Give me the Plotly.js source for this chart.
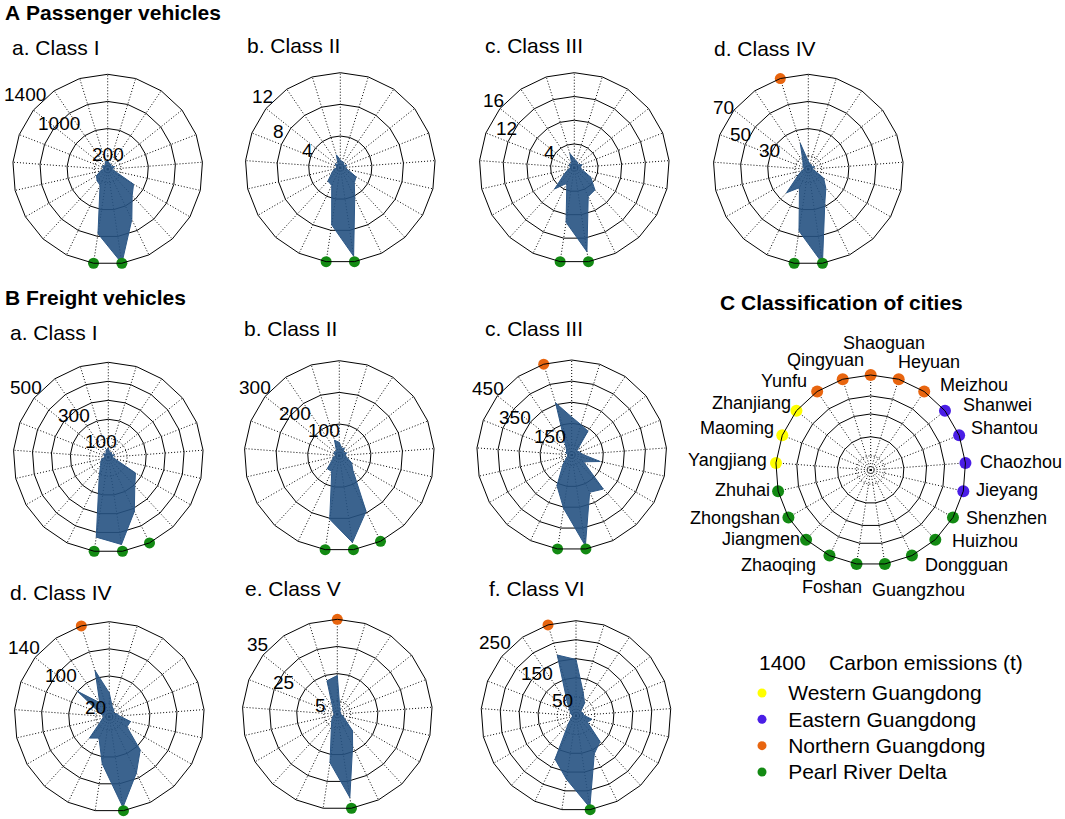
<!DOCTYPE html>
<html><head><meta charset="utf-8">
<script src="https://cdn.plot.ly/plotly-3.0.1.min.js"></script>
<style>html,body{margin:0;padding:0;background:#fff}#chart{width:1065px;height:819px}</style>
</head><body><div id="chart"></div>
<script>
const cities = ['Shaoguan','Heyuan','Meizhou','Shanwei','Shantou','Chaozhou','Jieyang','Shenzhen','Huizhou','Dongguan','Guangzhou','Foshan','Zhaoqing','Jiangmen','Zhongshan','Zhuhai','Yangjiang','Maoming','Zhanjiang','Yunfu','Qingyuan'];
const cityRegion = ['N','N','N','E','E','E','E','P','P','P','P','P','P','P','P','P','W','W','W','N','N'];
const regionKeys = ['W','E','N','P'];
const regionNames = ['Western Guangdong','Eastern Guangdong','Northern Guangdong','Pearl River Delta'];
const regionColors = ['#ffff00','#4a1ee6','#e8650f','#138a13'];

// Passenger vehicles (t)
const passClassI   = [130,80,90,60,110,70,100,440,530,820,1400,960,260,230,190,110,60,80,90,60,120];
const passClassII  = [1.0,0.8,0.8,0.5,0.9,0.6,0.9,2.3,2.6,4.2,11.3,7.3,2.5,2.3,1.2,0.8,0.4,0.6,0.8,0.5,1.7];
const passClassIII = [1.5,1.2,1.0,0.8,1.4,1.0,1.3,3.2,5.1,5.4,14.3,9.3,2.9,4.9,1.8,1.0,0.6,0.9,1.0,0.8,2.5];
const passClassIV  = [6,4,4,3,5,3,5,13,19,28,70,46,15,23.6,8.5,5,3,4,5,7,20];
// Freight vehicles (t)
const frClassI   = [50,25,30,20,35,20,35,165,205,316,464,425,110,60,45,35,15,25,30,20,40];
const frClassII  = [42,25,28,15,25,18,25,45,63,195,277,203,55,56,25,20,12,18,20,15,51];
const frClassIII = [180,150,137,30,40,50,139,64,220,196,435,256,161,60,30,20,20,30,30,50,258];
const frClassIV  = [35,15,12,8,12,15,32,30,67,92,135,70,35,43,15,10,8,15,60,25,71];
const frClassV   = [14.3,3,2,1,1.5,1,2,3,8.2,13,31,18,5,3,2,1.5,1,1.5,2,3,12.9];
const frClassVI  = [148,64,40,15,20,20,43,35,93,111,244,169,127,30,15,10,10,15,20,40,167];

// radial rings (first one drawn dotted where flagged) and the rings that carry a label
const ringsPA = [200,600,1000,1400];      const labRingsPA = [200,1000,1400];
const ringsPB = [4,8,12];                 const labRingsPB = [4,8,12];
const ringsPC = [4,8,12,16];              const labRingsPC = [4,12,16];
const ringsPD = [10,30,50,70];            const labRingsPD = [30,50,70];
const ringsFA = [100,200,300,400,500];    const labRingsFA = [100,300,500];
const ringsFB = [100,200,300];            const labRingsFB = [100,200,300];
const ringsFC = [50,150,250,350,450];     const labRingsFC = [150,350,450];
const ringsFD = [20,60,100,140];          const labRingsFD = [20,100,140];
const ringsFE = [5,15,25,35];             const labRingsFE = [5,25,35];
const ringsFF = [50,100,150,200,250];     const labRingsFF = [50,150,250];
const ringsC  = [0.15,0.35,0.59,0.78,1];

// highlighted cities on outer ring
const markPA = ['Guangzhou','Foshan'];
const markPB = ['Guangzhou','Foshan'];
const markPC = ['Guangzhou','Foshan'];
const markPD = ['Qingyuan','Guangzhou','Foshan'];
const markFA = ['Dongguan','Guangzhou','Foshan'];
const markFB = ['Dongguan','Guangzhou','Foshan'];
const markFC = ['Qingyuan','Guangzhou','Foshan'];
const markFD = ['Qingyuan','Guangzhou'];
const markFE = ['Shaoguan','Guangzhou'];
const markFF = ['Qingyuan','Guangzhou'];

const W = 1065, H = 819, R = 95;
const FONT = 'Liberation Sans, Arial, sans-serif';

// layout: centre of each radar, title position, and label offsets (px from centre)
const charts = [
  {id:'polar',   cx:107.7, cy:169.3, vals:passClassI,   rings:ringsPA, lr:labRingsPA, mark:markPA, dotIn:true,  title:'a. Class I',   tx:10,  ty:47,
   off:[[0,-15],[-49,-46],[-83,-75]]},
  {id:'polar2',  cx:340.3, cy:167.7, vals:passClassII,  rings:ringsPB, lr:labRingsPB, mark:markPB, dotIn:false, title:'b. Class II',  tx:245, ty:45,
   off:[[-33,-17],[-62,-36],[-78,-71]]},
  {id:'polar3',  cx:574.3, cy:167.7, vals:passClassIII, rings:ringsPC, lr:labRingsPC, mark:markPC, dotIn:false, title:'c. Class III', tx:483, ty:45,
   off:[[-25,-15],[-68,-39],[-81,-67]]},
  {id:'polar4',  cx:808.3, cy:169.3, vals:passClassIV,  rings:ringsPD, lr:labRingsPD, mark:markPD, dotIn:true,  title:'d. Class IV',  tx:712, ty:48,
   off:[[-39,-19],[-68,-35],[-85,-62]]},
  {id:'polar5',  cx:108.3, cy:457.3, vals:frClassI,     rings:ringsFA, lr:labRingsFA, mark:markFA, dotIn:true,  title:'a. Class I',   tx:8,   ty:332,
   off:[[-7,-16],[-34,-42],[-82,-70]]},
  {id:'polar6',  cx:339.3, cy:455.7, vals:frClassII,    rings:ringsFB, lr:labRingsFB, mark:markFB, dotIn:false, title:'b. Class II',  tx:242, ty:328,
   off:[[-15,-25],[-44,-42],[-84,-68]]},
  {id:'polar7',  cx:571.7, cy:455.0, vals:frClassIII,   rings:ringsFC, lr:labRingsFC, mark:markFC, dotIn:true,  title:'c. Class III', tx:483, ty:328,
   off:[[-22,-19],[-57,-38],[-84,-67]]},
  {id:'polar8',  cx:109.3, cy:716.7, vals:frClassIV,    rings:ringsFD, lr:labRingsFD, mark:markFD, dotIn:true,  title:'d. Class IV',  tx:8,   ty:592,
   off:[[-14,-9],[-48,-41],[-85,-69]]},
  {id:'polar9',  cx:337.3, cy:714.3, vals:frClassV,     rings:ringsFE, lr:labRingsFE, mark:markFE, dotIn:true,  title:'e. Class V',   tx:243, ty:588,
   off:[[-17,-9],[-54,-32],[-80,-70]]},
  {id:'polar10', cx:576.0, cy:715.7, vals:frClassVI,    rings:ringsFF, lr:labRingsFF, mark:markFF, dotIn:true,  title:'f. Class VI',  tx:487, ty:588,
   off:[[-14,-15],[-39,-42],[-81,-73]]}
];

// classification chart: centre and city-label offsets (px from centre), same order as cities
const chartC = {cx:870.7, cy:470};
const cityLabelOff = [[13,-127],[58,-108],[103,-85],[127,-65],[134,-42],[150,-8],[136,20],[136,48],[114,71],[96,95],
  [48,120],[-39,117],[-92,95],[-110,69],[-136,48],[-128,20],[-143,-10],[-134,-42],[-119,-67],[-87,-89],[-45,-110]];

function regionColorOf(city){
  const k = cityRegion[cities.indexOf(city)];
  return regionColors[regionKeys.indexOf(k)];
}

function polarCfg(cx, cy, rmax, solidRings){
  return {
    domain: {x:[(cx-R)/W,(cx+R)/W], y:[1-(cy+R)/H, 1-(cy-R)/H]},
    gridshape:'linear',
    bgcolor:'rgba(0,0,0,0)',
    angularaxis:{type:'category', categoryarray:cities, rotation:90, direction:'clockwise',
      showline:true, linecolor:'#000', linewidth:1, showgrid:true, gridcolor:'#000', griddash:'1px,2px', gridwidth:1,
      showticklabels:false, ticks:''},
    radialaxis:{range:[0,rmax], tickvals:solidRings, showline:false, ticks:'',
      showgrid:true, gridcolor:'#000', gridwidth:1, showticklabels:false}
  };
}

function dottedRing(subplot, v){
  return {type:'scatterpolar', subplot:subplot, r:cities.map(()=>v).concat([v]), theta:cities.concat([cities[0]]),
    mode:'lines', line:{color:'#000', width:1, dash:'1px,2px'}, hoverinfo:'skip'};
}

const data = [];
const layout = {
  width:W, height:H, margin:{l:0,r:0,t:0,b:0}, paper_bgcolor:'#fff', plot_bgcolor:'rgba(0,0,0,0)', showlegend:false,
  font:{family:FONT, color:'#000'},
  annotations:[],
  // small axes used as the colour key
  xaxis:{domain:[742/W, 782/W], range:[-1,1], visible:false, fixedrange:true},
  yaxis:{domain:[1-785.2/H, 1-679.8/H], type:'category', categoryarray:regionNames, range:[3.5,-0.5],
    side:'right', anchor:'x', showgrid:false, zeroline:false, showline:false, ticks:'outside', ticklen:1,
    tickcolor:'rgba(0,0,0,0)', tickfont:{family:FONT, size:21, color:'#000'}, fixedrange:true}
};

charts.forEach(c => {
  const rmax = c.rings[c.rings.length-1];
  layout[c.id] = polarCfg(c.cx, c.cy, rmax, c.dotIn ? c.rings.slice(1) : c.rings);
  if (c.dotIn) data.push(dottedRing(c.id, c.rings[0]));
  data.push({type:'scatterpolar', subplot:c.id, r:c.vals.concat([c.vals[0]]), theta:cities.concat([cities[0]]),
    mode:'lines', fill:'toself', fillcolor:'rgba(38,82,130,0.9)', line:{color:'rgba(45,88,135,1)', width:1},
    hoverinfo:'skip'});
  data.push({type:'scatterpolar', subplot:c.id, r:c.mark.map(()=>rmax), theta:c.mark, mode:'markers',
    marker:{size:11, color:c.mark.map(regionColorOf)}, cliponaxis:false, hoverinfo:'skip'});
  layout.annotations.push({xref:'paper', yref:'paper', x:c.tx/W, y:1-c.ty/H, xanchor:'left', yanchor:'middle',
    text:c.title, showarrow:false, font:{family:FONT, size:21, color:'#000'}});
  c.lr.forEach((v, i) => {
    layout.annotations.push({xref:'paper', yref:'paper', x:(c.cx+c.off[i][0])/W, y:1-(c.cy+c.off[i][1])/H,
      xanchor:'center', yanchor:'middle', text:String(v), showarrow:false,
      font:{family:FONT, size:19, color:'#000'}});
  });
});

// Classification chart
layout.polar11 = polarCfg(chartC.cx, chartC.cy, 1, ringsC.slice(1));
data.push(dottedRing('polar11', ringsC[0]));
regionKeys.forEach((k, i) => {
  const cs = cities.filter((c, j) => cityRegion[j] === k);
  data.push({type:'scatterpolar', subplot:'polar11', r:cs.map(()=>1), theta:cs, mode:'markers',
    marker:{size:12, color:regionColors[i]}, cliponaxis:false, hoverinfo:'skip'});
});
cities.forEach((c, i) => layout.annotations.push({xref:'paper', yref:'paper',
  x:(chartC.cx+cityLabelOff[i][0])/W, y:1-(chartC.cy+cityLabelOff[i][1])/H, xanchor:'center', yanchor:'middle',
  text:c, showarrow:false, font:{family:FONT, size:18, color:'#000'}}));

// colour key
data.push({type:'scatter', xaxis:'x', yaxis:'y', x:regionNames.map(()=>0), y:regionNames, mode:'markers',
  marker:{size:9, color:regionColors}, cliponaxis:false, hoverinfo:'skip'});

const heads = [
  {t:'<b>A</b> <b>Passenger vehicles</b>', x:3, y:13},
  {t:'<b>B</b> <b>Freight vehicles</b>', x:3, y:297},
  {t:'<b>C</b> <b>Classification of cities</b>', x:718, y:302},
  {t:'1400&nbsp;&nbsp;&nbsp;&nbsp;Carbon emissions (t)', x:757, y:662}
];
heads.forEach(h => layout.annotations.push({xref:'paper', yref:'paper', x:h.x/W, y:1-h.y/H, xanchor:'left', yanchor:'middle',
  text:h.t, showarrow:false, font:{family:FONT, size:21, color:'#000'}}));

Plotly.newPlot('chart', data, layout, {staticPlot:true});
</script>
</body></html>
